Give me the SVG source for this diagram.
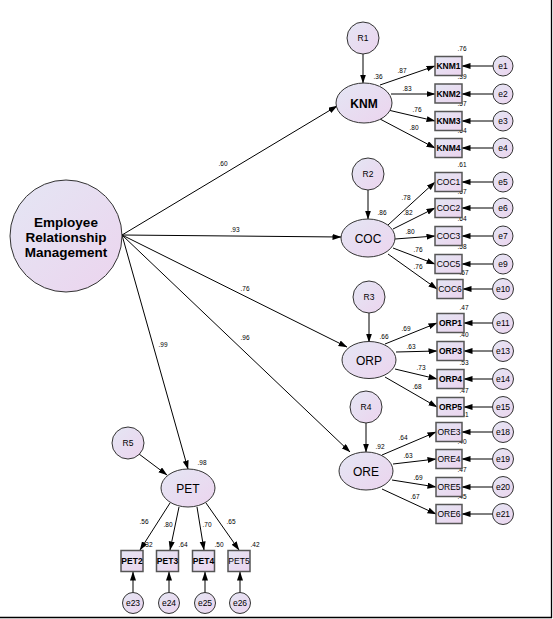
<svg xmlns="http://www.w3.org/2000/svg" width="553" height="619" viewBox="0 0 553 619">
<defs>
<linearGradient id="g" x1="0" y1="0" x2="1" y2="1">
<stop offset="0" stop-color="#e4e6f4"/>
<stop offset="1" stop-color="#ecd4ee"/>
</linearGradient>
<marker id="ah" markerUnits="userSpaceOnUse" markerWidth="9" markerHeight="7" refX="8.5" refY="3" orient="auto">
<path d="M0,0 L9,3 L0,6 z" fill="#000"/>
</marker>
</defs>
<style>
.lat{fill:url(#g);stroke:#333;stroke-width:1}
.obs{fill:url(#g);stroke:#555;stroke-width:1.5}
.err{fill:url(#g);stroke:#333;stroke-width:1}
.c line{stroke:#000;stroke-width:1;marker-end:url(#ah)}
text{font-family:"Liberation Sans",Arial,sans-serif;fill:#000}
.lt{font-size:12px;text-anchor:middle}
.ot{font-size:8.5px;text-anchor:middle}
.et{font-size:8.5px;text-anchor:middle}
.n{font-size:6.5px;text-anchor:middle}
.b{font-weight:bold}
</style>
<rect width="553" height="619" fill="#fff"/>
<line x1="551.5" y1="0" x2="551.5" y2="618" stroke="#000" stroke-width="1.3"/>
<line x1="0" y1="617.5" x2="552" y2="617.5" stroke="#000" stroke-width="1.3"/>

<g id="connectors" class="c">
<line x1="122" y1="235" x2="337" y2="106"/>
<line x1="122" y1="235" x2="341" y2="237"/>
<line x1="122" y1="235" x2="347" y2="347"/>
<line x1="122" y1="235" x2="350" y2="452"/>
<line x1="122" y1="235" x2="188" y2="469"/>
<line x1="363" y1="54" x2="363" y2="83"/>
<line x1="368" y1="190" x2="368" y2="219"/>
<line x1="369" y1="313" x2="369" y2="342"/>
<line x1="366" y1="423" x2="366" y2="452"/>
<line x1="139" y1="454" x2="167" y2="475"/>
<line x1="380" y1="85" x2="435" y2="66"/>
<line x1="391" y1="94" x2="435" y2="94"/>
<line x1="388" y1="110" x2="435" y2="121"/>
<line x1="380" y1="119" x2="435" y2="148"/>
<line x1="388" y1="225" x2="435" y2="182"/>
<line x1="393" y1="229" x2="435" y2="208"/>
<line x1="395" y1="239" x2="435" y2="236"/>
<line x1="393" y1="248" x2="435" y2="264"/>
<line x1="388" y1="254" x2="437" y2="289"/>
<line x1="385" y1="344" x2="437" y2="323"/>
<line x1="396" y1="352" x2="437" y2="351"/>
<line x1="395" y1="369" x2="437" y2="379"/>
<line x1="385" y1="377" x2="437" y2="407"/>
<line x1="382" y1="455" x2="436" y2="432"/>
<line x1="393" y1="464" x2="436" y2="459"/>
<line x1="392" y1="480" x2="436" y2="487"/>
<line x1="382" y1="489" x2="436" y2="514"/>
<line x1="170" y1="503" x2="140" y2="550"/>
<line x1="179" y1="507" x2="170" y2="550"/>
<line x1="197" y1="507" x2="204" y2="550"/>
<line x1="206" y1="503" x2="239" y2="550"/>
<line x1="493" y1="66" x2="462" y2="66"/>
<line x1="493" y1="94" x2="462" y2="94"/>
<line x1="493" y1="121" x2="462" y2="121"/>
<line x1="493" y1="148" x2="462" y2="148"/>
<line x1="493" y1="182" x2="462" y2="182"/>
<line x1="493" y1="208" x2="462" y2="208"/>
<line x1="493" y1="236" x2="462" y2="236"/>
<line x1="493" y1="264" x2="462" y2="264"/>
<line x1="492" y1="289" x2="463" y2="289"/>
<line x1="493" y1="323" x2="464" y2="323"/>
<line x1="493" y1="351" x2="464" y2="351"/>
<line x1="493" y1="379" x2="464" y2="379"/>
<line x1="493" y1="407" x2="464" y2="407"/>
<line x1="493" y1="432" x2="462" y2="432"/>
<line x1="493" y1="459" x2="462" y2="459"/>
<line x1="493" y1="487" x2="462" y2="487"/>
<line x1="493" y1="514" x2="462" y2="514"/>
<line x1="133" y1="593" x2="133" y2="572"/>
<line x1="169" y1="593" x2="169" y2="572"/>
<line x1="205" y1="593" x2="205" y2="572"/>
<line x1="240" y1="593" x2="240" y2="572"/>
</g>

<g id="labels">
<text class="n" x="223" y="166">.60</text>
<text class="n" x="235" y="232">.93</text>
<text class="n" x="245" y="291">.76</text>
<text class="n" x="245" y="340">.96</text>
<text class="n" x="163" y="347">.99</text>
<text class="n" x="462" y="51">.76</text>
<text class="n" x="462" y="79">.39</text>
<text class="n" x="462" y="106">.57</text>
<text class="n" x="462" y="133">.64</text>
<text class="n" x="402" y="73">.87</text>
<text class="n" x="407" y="91">.83</text>
<text class="n" x="417" y="112">.76</text>
<text class="n" x="414" y="130">.80</text>
<text class="n" x="378" y="79">.36</text>
<text class="n" x="462" y="167">.61</text>
<text class="n" x="462" y="194">.67</text>
<text class="n" x="462" y="221">.64</text>
<text class="n" x="462" y="249">.58</text>
<text class="n" x="464" y="275">.57</text>
<text class="n" x="406" y="200">.78</text>
<text class="n" x="408" y="215">.82</text>
<text class="n" x="410" y="234">.80</text>
<text class="n" x="418" y="252">.76</text>
<text class="n" x="418" y="269">.76</text>
<text class="n" x="382" y="215">.86</text>
<text class="n" x="464" y="310">.47</text>
<text class="n" x="464" y="337">.40</text>
<text class="n" x="464" y="365">.53</text>
<text class="n" x="464" y="393">.47</text>
<text class="n" x="464" y="417">.41</text>
<text class="n" x="406" y="331">.69</text>
<text class="n" x="411" y="349">.63</text>
<text class="n" x="421" y="370">.73</text>
<text class="n" x="417" y="389">.68</text>
<text class="n" x="384" y="339">.66</text>
<text class="n" x="462" y="444">.40</text>
<text class="n" x="462" y="472">.47</text>
<text class="n" x="462" y="499">.45</text>
<text class="n" x="403" y="440">.64</text>
<text class="n" x="408" y="458">.63</text>
<text class="n" x="418" y="480">.69</text>
<text class="n" x="415" y="499">.67</text>
<text class="n" x="380" y="449">.92</text>
<text class="n" x="202" y="465">.98</text>
<text class="n" x="144" y="524">.56</text>
<text class="n" x="168" y="527">.80</text>
<text class="n" x="207" y="527">.70</text>
<text class="n" x="231" y="524">.65</text>
<text class="n" x="148" y="547">.32</text>
<text class="n" x="183" y="547">.64</text>
<text class="n" x="219" y="547">.50</text>
<text class="n" x="255" y="547">.42</text>
</g>

<g id="ERM">
<circle class="lat" cx="66" cy="236" r="56"/>
<text class="lt b" x="66" y="227" style="font-size:13.5px">Employee</text>
<text class="lt b" x="66" y="242" style="font-size:13.5px">Relationship</text>
<text class="lt b" x="66" y="257" style="font-size:13.5px">Management</text>
</g>

<g id="KNM"><ellipse class="lat" cx="364" cy="103" rx="28" ry="20"/><text class="lt b" x="364" y="107.5">KNM</text></g>
<g id="COC"><ellipse class="lat" cx="368" cy="238" rx="27" ry="19"/><text class="lt" x="368" y="242.5">COC</text></g>
<g id="ORP"><ellipse class="lat" cx="369" cy="360" rx="27" ry="18.5"/><text class="lt" x="369" y="364.5">ORP</text></g>
<g id="ORE"><ellipse class="lat" cx="366" cy="471" rx="27" ry="19"/><text class="lt" x="366" y="475.5">ORE</text></g>
<g id="PET"><ellipse class="lat" cx="188" cy="488" rx="27" ry="19"/><text class="lt" x="188" y="492.5">PET</text></g>

<g id="R1"><circle class="err" cx="363" cy="38" r="16"/><text class="et" x="363" y="41">R1</text></g>
<g id="R2"><circle class="err" cx="368" cy="174" r="16"/><text class="et" x="368" y="177">R2</text></g>
<g id="R3"><circle class="err" cx="369" cy="297" r="16"/><text class="et" x="369" y="300">R3</text></g>
<g id="R4"><circle class="err" cx="366" cy="407" r="16"/><text class="et" x="366" y="410">R4</text></g>
<g id="R5"><circle class="err" cx="128" cy="443" r="16"/><text class="et" x="128" y="446">R5</text></g>

<g id="KNM1"><rect class="obs" x="435" y="56.5" width="27" height="19"/><text class="ot b" x="448.5" y="69">KNM1</text></g>
<g id="KNM2"><rect class="obs" x="435" y="84" width="27" height="19"/><text class="ot b" x="448.5" y="96.5">KNM2</text></g>
<g id="KNM3"><rect class="obs" x="435" y="111.5" width="27" height="19"/><text class="ot b" x="448.5" y="124">KNM3</text></g>
<g id="KNM4"><rect class="obs" x="435" y="138.5" width="27" height="19"/><text class="ot b" x="448.5" y="151">KNM4</text></g>

<g id="COC1"><rect class="obs" x="435" y="172.5" width="27" height="19"/><text class="ot" x="448.5" y="185">COC1</text></g>
<g id="COC2"><rect class="obs" x="435" y="198.5" width="27" height="19"/><text class="ot" x="448.5" y="211">COC2</text></g>
<g id="COC3"><rect class="obs" x="435" y="226.5" width="27" height="19"/><text class="ot" x="448.5" y="239">COC3</text></g>
<g id="COC5"><rect class="obs" x="435" y="254.5" width="27" height="19"/><text class="ot" x="448.5" y="267">COC5</text></g>
<g id="COC6"><rect class="obs" x="437" y="279.5" width="26" height="19"/><text class="ot" x="450" y="292">COC6</text></g>

<g id="ORP1"><rect class="obs" x="437" y="313.5" width="27" height="19"/><text class="ot b" x="450.5" y="326">ORP1</text></g>
<g id="ORP3"><rect class="obs" x="437" y="341.5" width="27" height="19"/><text class="ot b" x="450.5" y="354">ORP3</text></g>
<g id="ORP4"><rect class="obs" x="437" y="369.5" width="27" height="19"/><text class="ot b" x="450.5" y="382">ORP4</text></g>
<g id="ORP5"><rect class="obs" x="437" y="397.5" width="27" height="19"/><text class="ot b" x="450.5" y="410">ORP5</text></g>

<g id="ORE3"><rect class="obs" x="436" y="422.5" width="26" height="19"/><text class="ot" x="449" y="435">ORE3</text></g>
<g id="ORE4"><rect class="obs" x="436" y="449.5" width="26" height="19"/><text class="ot" x="449" y="462">ORE4</text></g>
<g id="ORE5"><rect class="obs" x="436" y="477.5" width="26" height="19"/><text class="ot" x="449" y="490">ORE5</text></g>
<g id="ORE6"><rect class="obs" x="436" y="504.5" width="26" height="19"/><text class="ot" x="449" y="517">ORE6</text></g>

<g id="PET2"><rect class="obs" x="121" y="550.5" width="22" height="21"/><text class="ot b" x="132" y="564">PET2</text></g>
<g id="PET3"><rect class="obs" x="156.5" y="550.5" width="22" height="21"/><text class="ot b" x="167.5" y="564">PET3</text></g>
<g id="PET4"><rect class="obs" x="192.5" y="550.5" width="22" height="21"/><text class="ot b" x="203.5" y="564">PET4</text></g>
<g id="PET5"><rect class="obs" x="228" y="550.5" width="22" height="21"/><text class="ot" x="239" y="564">PET5</text></g>

<g id="e1"><circle class="err" cx="503" cy="66" r="10"/><text class="et" x="503" y="69">e1</text></g>
<g id="e2"><circle class="err" cx="503" cy="94" r="10"/><text class="et" x="503" y="97">e2</text></g>
<g id="e3"><circle class="err" cx="503" cy="121" r="10"/><text class="et" x="503" y="124">e3</text></g>
<g id="e4"><circle class="err" cx="503" cy="148" r="10"/><text class="et" x="503" y="151">e4</text></g>
<g id="e5"><circle class="err" cx="503" cy="182" r="10"/><text class="et" x="503" y="185">e5</text></g>
<g id="e6"><circle class="err" cx="503" cy="208" r="10"/><text class="et" x="503" y="211">e6</text></g>
<g id="e7"><circle class="err" cx="503" cy="236" r="10"/><text class="et" x="503" y="239">e7</text></g>
<g id="e9"><circle class="err" cx="503" cy="264" r="10"/><text class="et" x="503" y="267">e9</text></g>
<g id="e10"><circle class="err" cx="503" cy="289" r="10.5"/><text class="et" x="503" y="292">e10</text></g>
<g id="e11"><circle class="err" cx="503" cy="323" r="10.5"/><text class="et" x="503" y="326">e11</text></g>
<g id="e13"><circle class="err" cx="503" cy="351" r="10.5"/><text class="et" x="503" y="354">e13</text></g>
<g id="e14"><circle class="err" cx="503" cy="379" r="10.5"/><text class="et" x="503" y="382">e14</text></g>
<g id="e15"><circle class="err" cx="503" cy="407" r="10.5"/><text class="et" x="503" y="410">e15</text></g>
<g id="e18"><circle class="err" cx="503" cy="432" r="10.5"/><text class="et" x="503" y="435">e18</text></g>
<g id="e19"><circle class="err" cx="503" cy="459" r="10.5"/><text class="et" x="503" y="462">e19</text></g>
<g id="e20"><circle class="err" cx="503" cy="487" r="10.5"/><text class="et" x="503" y="490">e20</text></g>
<g id="e21"><circle class="err" cx="503" cy="514" r="10.5"/><text class="et" x="503" y="517">e21</text></g>
<g id="e23"><circle class="err" cx="133" cy="603" r="10.5"/><text class="et" x="133" y="606">e23</text></g>
<g id="e24"><circle class="err" cx="169" cy="603" r="10.5"/><text class="et" x="169" y="606">e24</text></g>
<g id="e25"><circle class="err" cx="205" cy="603" r="10.5"/><text class="et" x="205" y="606">e25</text></g>
<g id="e26"><circle class="err" cx="240" cy="603" r="10.5"/><text class="et" x="240" y="606">e26</text></g>
</svg>
